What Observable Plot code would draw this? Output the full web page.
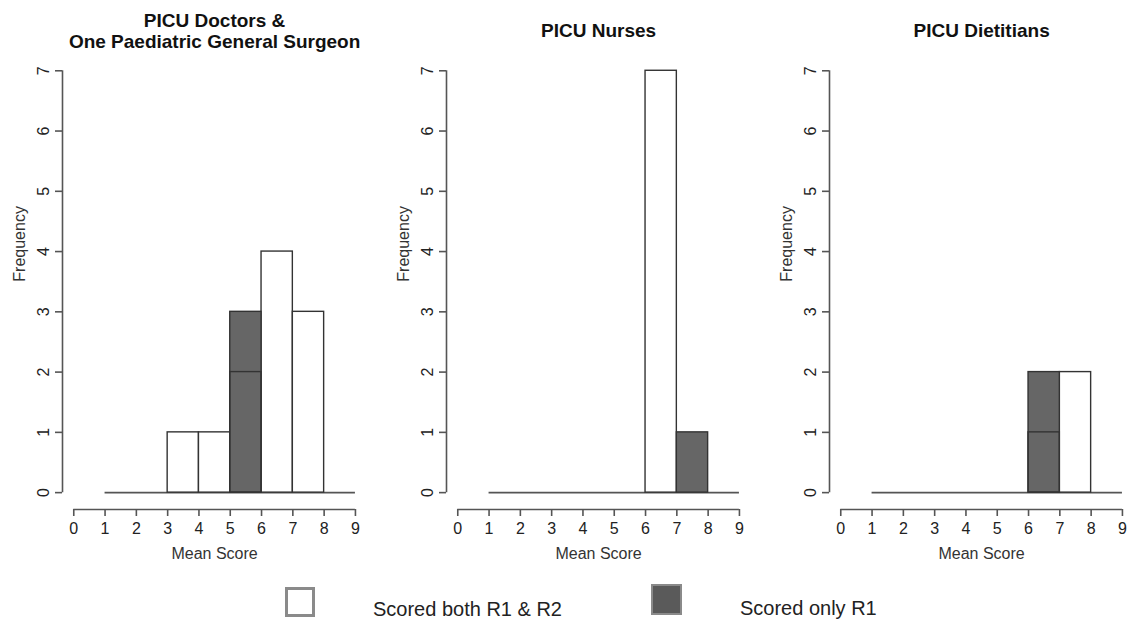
<!DOCTYPE html>
<html>
<head>
<meta charset="utf-8">
<script src="https://cdn.jsdelivr.net/npm/d3@7"></script>
<script src="https://cdn.jsdelivr.net/npm/@observablehq/plot@0.6"></script>
<style>
  html, body { margin: 0; padding: 0; background: #fff; overflow: hidden; }
  #wrap { position: relative; width: 1132px; height: 621px; overflow: hidden; background: #fff;
          font-family: "Liberation Sans", Arial, sans-serif; }
  .panel { position: absolute; top: 0; }
  .lg-box { position: absolute; box-sizing: border-box; }
  .lg-text { position: absolute; font-family: "Liberation Sans", Arial, sans-serif; font-size: 20px;
             line-height: 20px; color: #222; white-space: nowrap; }
</style>
</head>
<body>
<div id="wrap"></div>
<script>
// ---- data ----
const bins = [1, 2, 3, 4, 5, 6, 7, 8, 9];
const xTicks = [0, 1, 2, 3, 4, 5, 6, 7, 8, 9];
const yTicks = [0, 1, 2, 3, 4, 5, 6, 7];
const panelTitles = ["PICU Doctors &\nOne Paediatric General Surgeon", "PICU Nurses", "PICU Dietitians"];
const doctorsBoth   = [0, 0, 1, 1, 2, 4, 3, 0];
const doctorsOnlyR1 = [0, 0, 0, 0, 1, 0, 0, 0];
const nursesBoth    = [0, 0, 0, 0, 0, 7, 0, 0];
const nursesOnlyR1  = [0, 0, 0, 0, 0, 0, 1, 0];
const dietBoth      = [0, 0, 0, 0, 0, 1, 2, 0];
const dietOnlyR1    = [0, 0, 0, 0, 0, 1, 0, 0];
const xLabel = "Mean Score";
const yLabel = "Frequency";
const legendLabels = ["Scored both R1 & R2", "Scored only R1"];

// ---- styles ----
const DARK = "#666666";
const BAR = "#333333";
const AXIS = "#555555";
const TEXT = "#222222";
const FONT = "'Liberation Sans', Arial, sans-serif";

const panels = [
  {title: panelTitles[0], both: doctorsBoth, only: doctorsOnlyR1},
  {title: panelTitles[1], both: nursesBoth, only: nursesOnlyR1},
  {title: panelTitles[2], both: dietBoth, only: dietOnlyR1}
];

const wrap = document.getElementById("wrap");
const W = 377, H = 570, ML = 62, FW = 304.2, MT = 53.4, MB = 61, STEP = 383.6;
const xMin = xTicks[0], xMax = xTicks[xTicks.length - 1];
const yMin = yTicks[0], yMax = yTicks[yTicks.length - 1];
const xDomain = [xMin - 0.04 * (xMax - xMin), xMax + 0.04 * (xMax - xMin)];
const yDomain = [yMin - 0.04 * (yMax - yMin), yMax + 0.04 * (yMax - yMin)];
const intFmt = d => String(d);

panels.forEach((p, k) => {
  const rows = bins.slice(0, -1).map((x1, i) => ({
    x1, x2: bins[i + 1], both: p.both[i], only: p.only[i], total: p.both[i] + p.only[i]
  }));
  const nLines = p.title.split("\n").length;
  const chart = Plot.plot({
    width: W, height: H,
    marginLeft: ML, marginRight: W - ML - FW, marginTop: MT, marginBottom: MB,
    x: {domain: xDomain},
    y: {domain: yDomain},
    style: {fontFamily: FONT, fontSize: "16px", background: "transparent", overflow: "visible", color: TEXT},
    marks: [
      Plot.ruleY([0], {x1: bins[0], x2: bins[bins.length - 1], stroke: AXIS, strokeWidth: 1.6}),
      Plot.rectY(rows, {filter: d => d.total > 0 && d.only === 0, x1: "x1", x2: "x2", y1: 0, y2: "total",
                        fill: "white", stroke: BAR, strokeWidth: 1.4}),
      Plot.rectY(rows, {filter: d => d.only > 0, x1: "x1", x2: "x2", y1: 0, y2: "total",
                        fill: DARK, stroke: BAR, strokeWidth: 1.4}),
      Plot.rectY(rows, {filter: d => d.only > 0 && d.both > 0, x1: "x1", x2: "x2", y1: 0, y2: "both",
                        fill: "none", stroke: BAR, strokeWidth: 1.4}),
      // axis lines (R style: spanning first to last tick)
      Plot.ruleY([yDomain[0]], {x1: xMin, x2: xMax, stroke: AXIS, strokeWidth: 1.6}),
      Plot.ruleX([xDomain[0]], {y1: yMin, y2: yMax, stroke: AXIS, strokeWidth: 1.6}),
      Plot.axisX(xTicks, {tickSize: 7, tickPadding: 6, label: null, stroke: AXIS, strokeWidth: 1.6,
                          fill: TEXT, fontSize: 16, tickFormat: intFmt}),
      Plot.axisY(yTicks, {tickSize: 7, tickPadding: 6.7, tickRotate: -90, label: null, stroke: AXIS,
                          strokeWidth: 1.6, fill: TEXT, fontSize: 16, tickFormat: intFmt}),
      Plot.text([xLabel], {text: d => d, frameAnchor: "bottom", dy: 49, lineAnchor: "bottom",
                           fontSize: 16, fill: "#333"}),
      Plot.text([yLabel], {text: d => d, frameAnchor: "left", dx: -37.8, rotate: -90, lineAnchor: "bottom",
                           fontSize: 16, fill: "#333"}),
      Plot.text([p.title], {text: d => d, frameAnchor: "top", dy: nLines > 1 ? -6.4 : -17.4,
                            lineAnchor: "bottom", lineHeight: 1.1, fontSize: 19, fontWeight: "bold", fill: "#111"})
    ]
  });
  chart.classList.add("panel");
  chart.style.left = (STEP * k) + "px";
  wrap.appendChild(chart);
});

// ---- legend ----
const legendSpec = [
  {label: legendLabels[0], fill: "#ffffff", border: "#8a8a8a", bw: 3, box: [285, 586.7, 30, 30], tx: 373, base: 615.5},
  {label: legendLabels[1], fill: "#5a5a5a", border: "#8a8a8a", bw: 2, box: [651, 584, 31, 31], tx: 740, base: 614.5}
];
legendSpec.forEach(s => {
  const b = document.createElement("div");
  b.className = "lg-box";
  b.style.left = s.box[0] + "px"; b.style.top = s.box[1] + "px";
  b.style.width = s.box[2] + "px"; b.style.height = s.box[3] + "px";
  b.style.background = s.fill; b.style.border = s.bw + "px solid " + s.border;
  wrap.appendChild(b);
  const t = document.createElement("div");
  t.className = "lg-text";
  t.textContent = s.label;
  t.style.left = s.tx + "px";
  t.style.top = (s.base - 16.9) + "px";
  wrap.appendChild(t);
});
</script>
</body>
</html>
